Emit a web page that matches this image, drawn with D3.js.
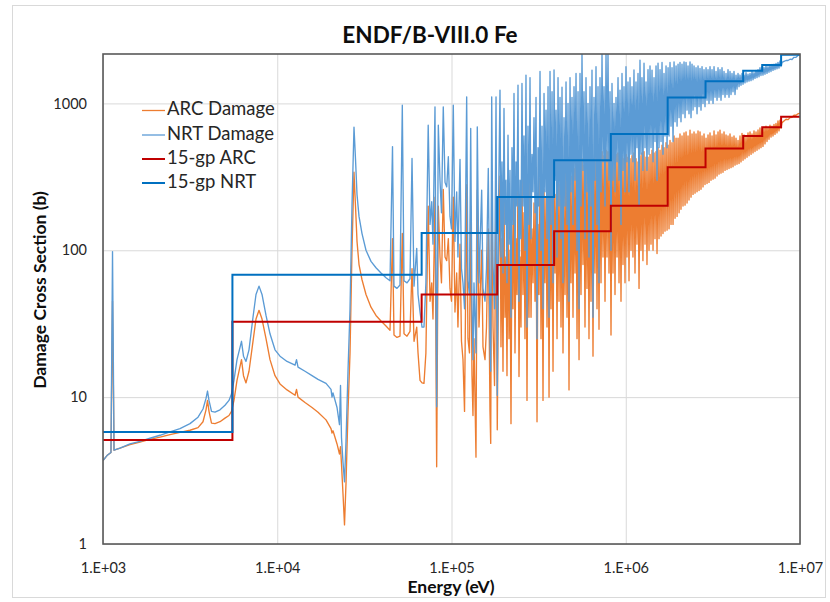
<!DOCTYPE html>
<html><head><meta charset="utf-8">
<script src="https://cdn.jsdelivr.net/npm/d3@7"></script>
<style>body{margin:0;background:#fff;} svg{display:block;font-family:Lato,"Open Sans",sans-serif;}</style>
</head><body><svg id="c" width="830" height="602"></svg>
<script>
// ---------- DATA ----------
// Pointwise damage cross sections (energy in keV, cross section in barns)
const energyKeV = [
1.000,1.054,1.111,1.134,1.157,1.252,1.428,1.630,1.860,2.124,2.424,2.766,3.157,3.510,3.749,3.901,3.979,4.058,4.195,4.393,4.693,5.013,5.285,5.462,5.645,5.875,6.235,6.402,6.617,6.884,7.258,7.551,7.858,8.176,8.620,9.086,9.707,10.37,11.38,12.65,12.90,13.16,14.43,15.83,17.14,19.05,20.35,20.62,20.89,22.03,22.76,23.07,23.37,23.84,24.32,24.81,25.47,26.16,26.85,27.57,28.12,28.69,29.46,30.65,32.31,34.51,36.87,39.39,42.09,44.37,45.86,46.77,48.66,50.63,52.20,53.39,55.55,57.79,59.35,60.94,63.16,64.26,65.97,67.74,
69.5,71.3,73.5,75.3,77.0,78.3,80.4,82.2,84.0,85.9,87.6,89.7,91.8,93.9,95.9,98.0,100.0,102.4,104.7,107.1,108.9,111.9,114.1,116.4,118.8,122.2,124.3,126.8,128.9,131.1,132.8,134.6,138.2,140.6,143.8,149.0,151.6,155.7,158.8,162.6,166.3,167.9,170.1,173.1,176.6,180.1,183.1,186.1,
189.8,192.3,194.9,197.5,200.1,202.8,205.5,208.2,211.0,213.8,
216.6,219.5,222.4,225.4,228.4,231.4,234.5,237.6,240.8,244.0,
247.2,250.5,253.8,257.2,260.6,264.1,267.6,271.2,274.8,278.5,
282.2,286.0,289.8,293.7,297.5,301.5,305.5,309.6,313.7,317.9,
322.1,326.4,330.7,335.1,339.6,344.1,348.7,353.3,358.1,362.9,
367.6,372.5,377.5,382.5,387.6,392.8,398.0,403.3,408.6,414.0,
419.5,425.1,430.7,436.4,442.3,448.2,454.2,460.2,466.3,472.5,
478.8,485.2,491.6,498.1,504.8,511.5,518.4,525.3,532.3,539.4,
546.3,553.6,560.9,568.4,575.9,583.6,591.4,599.3,607.2,615.3,
623.5,631.8,640.2,648.7,657.4,666.1,675.0,684.0,693.1,702.3,
711.6,721.1,730.7,740.4,750.3,760.3,770.4,780.6,791.0,801.5,
812.2,823.0,833.9,845.0,856.3,867.7,879.3,891.0,902.9,914.9,
926.9,939.2,951.7,964.4,977.2,990.2,1003,1016,1030,1044,
1058,1072,1086,1100,1115,1130,1145,1160,1176,1192,
1207,1223,1239,1255,1273,1290,1307,1324,1342,1360,
1378,1396,1415,1434,1453,1472,1492,1512,1532,1552,
1573,1594,1615,1636,1658,1680,1703,1726,1749,1772,
1795,1819,1843,1868,1893,1918,1944,1970,1996,2023,
2048,2075,2103,2131,2160,2189,2218,2248,2277,2307,
2338,2369,2401,2433,2465,2498,2531,2565,2599,2634,
2668,2703,2740,2776,2813,2850,2889,2927,2966,3005,
3045,3085,3127,3169,3211,3254,3297,3341,3385,3430,
3475,3521,3568,3615,3664,3713,3762,3812,3863,3914,
3966,4019,4072,4126,4181,4237,4293,4350,4409,4468,
4526,4586,4648,4710,4772,4835,4900,4965,5031,5098,
5166,5235,5304,5375,5446,5518,5592,5666,5742,5818,
5893,5971,6051,6131,6213,6296,6380,6465,6551,6638,
6727,6816,6907,6999,7092,7186,7282,7379,7477,7576,
7677,7779,
7883,8094,8311,8534,8762,8997,9238,9485,9739,10000];

const arcDamage = [
3.7,4.0,4.2,45,4.35,4.5,4.75,4.95,5.15,5.35,5.55,5.75,5.95,6.2,6.8,8.2,9.5,8.0,6.65,6.6,6.8,7.2,7.5,8.0,9.5,13,18,14,12.5,15,24,34,39,34,25,18,14,12.3,11.2,10.3,11.3,10,9.2,8.5,7.9,7.0,6.1,5.7,5.9,4.8,4.1,4.6,3.5,2.2,1.35,2.6,8,20,100,340,200,115,80,63,50,41,36,33,30.5,28.5,120,26.5,25.5,26,130,27,26,28,75,24,30,20,13,12.5,
12.4,20,200,45,60,34,230,3.36,200,90,60,260,90,85,120,55,45,230,38,70,30,110,24,18,8,280,25,20,200,14,7.5,25,3.9,257,30,100,22,18,30,140,8,4.84,300,30,12,300,6,70,
320,22,120,15,230,35,90,14,170,25,
100,6.6,150,40,280,20,120,50,300,13.8,
90,30,310,50,180,25,290,9.5,200,35,
300,35,140,60,210,45,250,6.8,150,50,
310,25,200,9.5,260,60,230,30,280,10,
320,40,260,15,330,70,240,25,300,45,
280,30,330,20,250,50,340,35,300,11.2,
380,60,320,35,360,70,400,25,350,18,
400,50,420,80,380,30,400,55,350,25,
380,45,420,19,400,70,440,40,420,29,
460,60,470,90,440,45,480,90,470,70,
450,26.5,480,70,440,50,450,90,460,60,
430,45,440,80,420,60,450,90,430,62,
420,100,440,90,460,70,420,110,400,55,
440,100,460,85,470,110,430,80,430,100,
450,110,480,100,460,120,470,95,500,120,
480,125,520,130,500,135,540,137,520,140,
560,150,540,150,600,165,580,170,580,180,
620,190,600,200,630,203,640,210,600,220,
658,230,620,240,640,245,620,250,650,255,
640,260,600,270,620,280,580,285,610,290,
630,300,600,305,650,310,610,320,640,330,
658,335,620,340,640,350,610,355,600,360,
620,365,590,370,600,380,580,385,560,390,
600,400,625,410,610,420,600,430,630,440,
640,450,620,460,650,470,640,480,660,490,
680,500,670,510,690,530,700,550,690,570,
710,590,700,600,720,615,730,630,760,650,
770,680,
740,760,780,775,800,805,830,830,850,860];

const nrtDamage = [
3.7,4.0,4.2,98,4.35,4.5,4.8,5.0,5.25,5.5,5.8,6.1,6.6,7.3,8.3,9.8,11.0,9.5,8.0,7.9,8.2,8.8,9.5,10.5,13,18,24,19,17.5,21,35,50,57,50,36,27,21,19,17.5,16.5,18,16,15,14,13.2,12.4,11.3,10,10.7,8.5,6.5,12,5.3,3.6,2.65,5,15,40,200,690,420,240,170,130,100,84,76,70,65,62,508,57,55,58,973,62,60,64,422,57,103,50,38,30,
30,60,711,150,214,110,948,8.6,711,300,180,948,290,270,433,170,140,973,115,250,90,416,75,60,40,1109,62,50,676,40,18,60,20,693,60,257,55,45,75,361,25,15,1109,80,40,1109,10.3,200,
1233,90,400,70,925,150,300,60,608,110,
350,35,500,150,1170,80,400,200,1333,45,
300,120,1368,200,600,100,1560,30,700,150,
1500,120,450,250,800,180,1100,25,500,200,
1650,100,700,40,1170,250,900,120,1300,35,
1650,150,1200,60,1690,300,900,90,1500,200,
1100,120,1290,60,800,200,1400,150,1000,45,
1500,250,1100,150,1300,300,1600,100,1200,40,
1600,200,2200,350,1200,120,1500,250,1000,90,
1300,200,1686,35,1100,300,1780,150,1300,60,
1500,250,2200,400,1300,200,2200,400,2200,300,
1200,100,1368,300,1000,250,1100,400,1500,300,
1233,150,1600,350,1300,250,1780,400,1400,250,
1500,450,1300,400,1690,300,1400,500,1600,200,
1970,450,1500,350,1880,500,1400,350,1700,450,
1800,500,1686,400,1500,550,1800,300,1880,500,
1700,550,1900,450,1600,600,1800,500,1750,600,
1900,700,1750,550,1920,750,1800,700,1850,800,
1900,750,1850,850,1920,800,1900,900,1800,850,
1920,800,1850,900,1800,950,1750,850,1800,950,
1730,900,1780,1000,1700,950,1750,1050,1700,1000,
1780,1050,1700,1000,1780,1100,1650,1050,1750,1100,
1700,1050,1750,1150,1650,1100,1600,1150,1700,1100,
1650,1150,1600,1200,1650,1150,1560,1250,1600,1300,
1560,1330,1600,1350,1560,1380,1620,1400,1580,1420,
1600,1430,1650,1450,1620,1480,1680,1500,1700,1520,
1750,1550,1780,1560,1760,1580,1800,1600,1780,1630,
1820,1650,1840,1680,1850,1700,1870,1720,1900,1740,
1950,1780,
1900,1930,1960,1960,2000,1990,2060,2060,2120,2170];

// 15-group structure (group bounds in keV, last entry = upper bound)
const groupBoundsKeV = [1, 5.53, 67.4, 183, 388, 821, 1740, 2870, 4720, 6070, 7790, 10000];
const gpARC = [5.1, 32.6, 50, 79.3, 135, 201, 367, 494, 599, 687, 811];
const gpNRT = [5.8, 68, 131, 231, 411, 618, 1099, 1418, 1668, 1823, 2143];

const xTicks = [1e3, 1e4, 1e5, 1e6, 1e7];
const xTickLabels = ["1.E+03", "1.E+04", "1.E+05", "1.E+06", "1.E+07"];
const yTicks = [1, 10, 100, 1000];
const yTickLabels = ["1", "10", "100", "1000"];
const seriesNames = ["ARC Damage", "NRT Damage", "15-gp ARC", "15-gp NRT"];
const seriesColors = ["#ED7D31", "#5B9BD5", "#C00000", "#0070C0"];

// ---------- CHART ----------
const svg = d3.select("#c");
const L = 103, R = 800, T = 54, B = 544;
const x = d3.scaleLog().domain([1e3, 1e7]).range([L, R]);
const y = d3.scaleLog().domain([1, 2170]).range([B, T]);

svg.append("rect").attr("x", 12.5).attr("y", 5.5).attr("width", 813).attr("height", 592)
  .attr("fill", "#fff").attr("stroke", "#d9d9d9");

// gridlines
const gx = svg.append("g").attr("transform", `translate(0,${B})`)
  .call(d3.axisBottom(x).tickValues(xTicks).tickSize(-(B - T)).tickFormat(""));
const gy = svg.append("g").attr("transform", `translate(${L},0)`)
  .call(d3.axisLeft(y).tickValues(yTicks).tickSize(-(R - L)).tickFormat(""));
[gx, gy].forEach(g => { g.select(".domain").remove(); g.selectAll("line").attr("stroke", "#d9d9d9").attr("stroke-width", 1); });

// clip
svg.append("clipPath").attr("id", "pc").append("rect")
  .attr("x", L).attr("y", T).attr("width", R - L).attr("height", B - T);
const plot = svg.append("g").attr("clip-path", "url(#pc)");

const n = Math.min(energyKeV.length, arcDamage.length, nrtDamage.length);
const arcPts = d3.range(n).map(i => [energyKeV[i] * 1e3, arcDamage[i]]);
const nrtPts = d3.range(n).map(i => [energyKeV[i] * 1e3, nrtDamage[i]]);
const line = d3.line().x(d => x(d[0])).y(d => y(Math.min(d[1], 5000)));

plot.append("path").datum(arcPts).attr("d", line).attr("fill", "none")
  .attr("stroke", seriesColors[0]).attr("stroke-width", 1.35).attr("stroke-linejoin", "round");
plot.append("path").datum(nrtPts).attr("d", line).attr("fill", "none")
  .attr("stroke", seriesColors[1]).attr("stroke-width", 1.35).attr("stroke-linejoin", "round");

const stepPts = vals => groupBoundsKeV.map((e, i) => [e * 1e3, vals[Math.min(i, vals.length - 1)]]);
const stepLine = d3.line().x(d => x(d[0])).y(d => y(d[1])).curve(d3.curveStepAfter);
plot.append("path").datum(stepPts(gpARC)).attr("d", stepLine).attr("fill", "none")
  .attr("stroke", seriesColors[2]).attr("stroke-width", 2);
plot.append("path").datum(stepPts(gpNRT)).attr("d", stepLine).attr("fill", "none")
  .attr("stroke", seriesColors[3]).attr("stroke-width", 2);

// frame
svg.append("rect").attr("x", L).attr("y", T).attr("width", R - L).attr("height", B - T)
  .attr("fill", "none").attr("stroke", "#595959").attr("stroke-width", 1.6);

// tick labels
const ax = svg.append("g").attr("transform", `translate(0,${B})`)
  .call(d3.axisBottom(x).tickValues(xTicks).tickSize(0).tickPadding(19).tickFormat((d, i) => xTickLabels[i]));
const ay = svg.append("g").attr("transform", `translate(${L},0)`)
  .call(d3.axisLeft(y).tickValues(yTicks).tickSize(0).tickPadding(16).tickFormat((d, i) => yTickLabels[i]));
[ax, ay].forEach(g => {
  g.select(".domain").remove();
  g.selectAll("text").attr("font-family", "Lato, 'Open Sans', sans-serif").attr("font-size", 14.5).attr("fill", "#262626");
});

// titles
svg.append("text").attr("x", 430).attr("y", 43).attr("text-anchor", "middle")
  .attr("font-size", 22.5).attr("font-weight", "bold").attr("fill", "#0d0d0d").text("ENDF/B-VIII.0 Fe");
svg.append("text").attr("x", 451).attr("y", 593).attr("text-anchor", "middle")
  .attr("font-size", 17.5).attr("font-weight", "bold").attr("fill", "#0d0d0d").text("Energy (eV)");
svg.append("text").attr("transform", "translate(42,290) rotate(-90)").attr("text-anchor", "middle")
  .attr("dominant-baseline", "middle").attr("font-size", 17.5).attr("font-weight", "bold")
  .attr("fill", "#0d0d0d").text("Damage Cross Section (b)");

// legend
const lg = svg.append("g");
const rowsY = [110.5, 135, 159, 183];
seriesNames.forEach((s, i) => {
  lg.append("line").attr("x1", 142).attr("x2", 165).attr("y1", rowsY[i]).attr("y2", rowsY[i])
    .attr("stroke", seriesColors[i]).attr("stroke-width", i < 2 ? 1.3 : 2);
  lg.append("text").attr("x", 167).attr("y", rowsY[i]).attr("dominant-baseline", "middle")
    .attr("font-size", 18.5).attr("fill", "#262626").text(s);
});
</script>
</body></html>
